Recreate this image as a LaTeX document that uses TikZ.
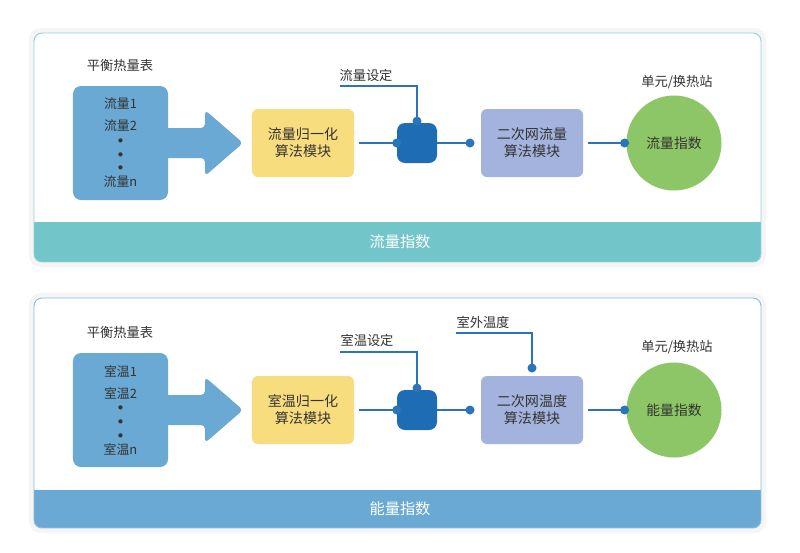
\documentclass[tikz,border=0pt]{standalone}
\usepackage{fontspec}
\newfontfamily\cjk{Noto Sans CJK SC}
\usepackage{tikz}
\definecolor{bandteal}{RGB}{114,198,201}
\definecolor{meterblue}{RGB}{106,169,212}
\definecolor{ctrlblue}{RGB}{30,109,180}
\definecolor{lineblue}{RGB}{42,116,186}
\definecolor{algoyellow}{RGB}{248,221,126}
\definecolor{algopurple}{RGB}{164,179,221}
\definecolor{idxgreen}{RGB}{141,198,102}
\definecolor{txtgray}{RGB}{51,51,51}
\definecolor{rimteal}{RGB}{140,210,213}
\definecolor{rimblue}{RGB}{140,188,224}

\begin{document}
\begin{tikzpicture}[x=0.03cm,y=-0.03cm,
    txt/.style={font=\cjk\fontsize{11.3}{14.5}\selectfont,text=txtgray},
    meter/.style={txt,font=\cjk\fontsize{11}{11}\selectfont,fill=meterblue,rounded corners=2.4mm,minimum width=2.85cm,minimum height=3.42cm,align=center,inner sep=0pt},
    algo/.style={txt,font=\cjk\fontsize{12}{14.5}\selectfont,rounded corners=1.8mm,minimum width=3.06cm,minimum height=2.04cm,align=center},
    ctrl/.style={fill=ctrlblue,rounded corners=2.4mm,minimum size=1.2cm,inner sep=0pt},
    joint/.style={circle,fill=lineblue,inner sep=0pt,minimum size=0.27cm},
    idxcircle/.style={txt,font=\cjk\fontsize{11.8}{14}\selectfont,circle,fill=idxgreen,minimum size=2.85cm},
    wire/.style={draw=lineblue,line width=1.3pt},
    bandtext/.style={font=\cjk\fontsize{13}{13}\selectfont,text=white},
    panel/.style={rounded corners=2.4mm}]
  \useasboundingbox (0,0) rectangle (800,553);
  \fill[white] (0,0) rectangle (800,553);

  \fill[black!4,rounded corners=3.4mm] (29,28) rectangle (766,267);
  \fill[white,panel] (34,33) rectangle (761,262);
  \begin{scope}
    \clip[panel] (34,33) rectangle (761,262);
    \fill[bandteal] (34,222) rectangle (761,262);
  \end{scope}
  \draw[rimteal,line width=0.8pt,panel] (34,33) rectangle (761,262);
  \node[bandtext] (band1) at (400,242) {流量指数};

  \node[txt] (meterlbl1) at (120,65) {平衡热量表};
  \fill[meterblue,rounded corners=1.2mm] (160,128) -- (205,128) -- (205,110) -- (243,143) -- (205,176) -- (205,158) -- (160,158) -- cycle;
  \node[meter] (meter1) at (120.5,143) {流量1\\[7.7pt]流量2\\[-0.6pt]{\small$\bullet$}\\[0.9pt]{\small$\bullet$}\\[0.9pt]{\small$\bullet$}\\[2.6pt]流量n};
  \node[algo,fill=algoyellow] (norm1) at (303,143) {流量归一化\\算法模块};
  \node[ctrl] (ctrl1) at (417,143) {};
  \node[algo,fill=algopurple] (net1) at (532,143) {二次网流量\\算法模块};
  \node[idxcircle] (flow1) at (674,143) {流量指数};
  \node[txt] (station1) at (677,82) {单元/换热站};
  \node[txt] (setlbl1) at (366,75) {流量设定};
  \coordinate (set1) at (340,86);

  \draw[wire] ([xshift=0.15cm]norm1.east) -- (ctrl1.west);
  \draw[wire] (ctrl1.east) -- (470,143) coordinate (out1);
  \draw[wire] (set1) -- (set1 -| ctrl1.north) -- (ctrl1.north);
  \draw[wire] ([xshift=0.15cm]net1.east) -- (flow1.west);
  \node[joint] (jin1) at (ctrl1.west) {};
  \node[joint] (jtop1) at ([yshift=0.05cm]ctrl1.north) {};
  \node[joint] (jout1) at (out1) {};
  \node[joint] (jidx1) at ([xshift=-0.05cm]flow1.west) {};

  \fill[black!4,rounded corners=3.4mm] (29,293) rectangle (766,533);
  \fill[white,panel] (34,298) rectangle (761,528);
  \begin{scope}
    \clip[panel] (34,298) rectangle (761,528);
    \fill[meterblue] (34,490) rectangle (761,528);
  \end{scope}
  \draw[rimblue,line width=0.8pt,panel] (34,298) rectangle (761,528);
  \node[bandtext] (band2) at (400,509) {能量指数};

  \node[txt] (meterlbl2) at (120,332) {平衡热量表};
  \fill[meterblue,rounded corners=1.2mm] (160,395) -- (205,395) -- (205,377) -- (243,410) -- (205,443) -- (205,425) -- (160,425) -- cycle;
  \node[meter] (meter2) at (120.5,410) {室温1\\[7.7pt]室温2\\[-0.6pt]{\small$\bullet$}\\[0.9pt]{\small$\bullet$}\\[0.9pt]{\small$\bullet$}\\[2.6pt]室温n};
  \node[algo,fill=algoyellow] (norm2) at (303,410) {室温归一化\\算法模块};
  \node[ctrl] (ctrl2) at (417,410) {};
  \node[algo,fill=algopurple] (net2) at (532,410) {二次网温度\\算法模块};
  \node[idxcircle] (energy2) at (674,410) {能量指数};
  \node[txt] (station2) at (677,347) {单元/换热站};
  \node[txt] (setlbl2) at (367,340) {室温设定};
  \coordinate (set2) at (340,352);
  \node[txt] (outlbl2) at (483,322) {室外温度};
  \coordinate (outdoor2) at (456,333);

  \draw[wire] ([xshift=0.15cm]norm2.east) -- (ctrl2.west);
  \draw[wire] (ctrl2.east) -- (470,410) coordinate (out2);
  \draw[wire] (set2) -- (set2 -| ctrl2.north) -- (ctrl2.north);
  \draw[wire] (outdoor2) -- (outdoor2 -| net2.north) -- (532,368) coordinate (netin2);
  \draw[wire] ([xshift=0.15cm]net2.east) -- (energy2.west);
  \node[joint] (jin2) at (ctrl2.west) {};
  \node[joint] (jtop2) at ([yshift=0.05cm]ctrl2.north) {};
  \node[joint] (jout2) at (out2) {};
  \node[joint] (jnet2) at (netin2) {};
  \node[joint] (jidx2) at ([xshift=-0.05cm]energy2.west) {};
\end{tikzpicture}
\end{document}
